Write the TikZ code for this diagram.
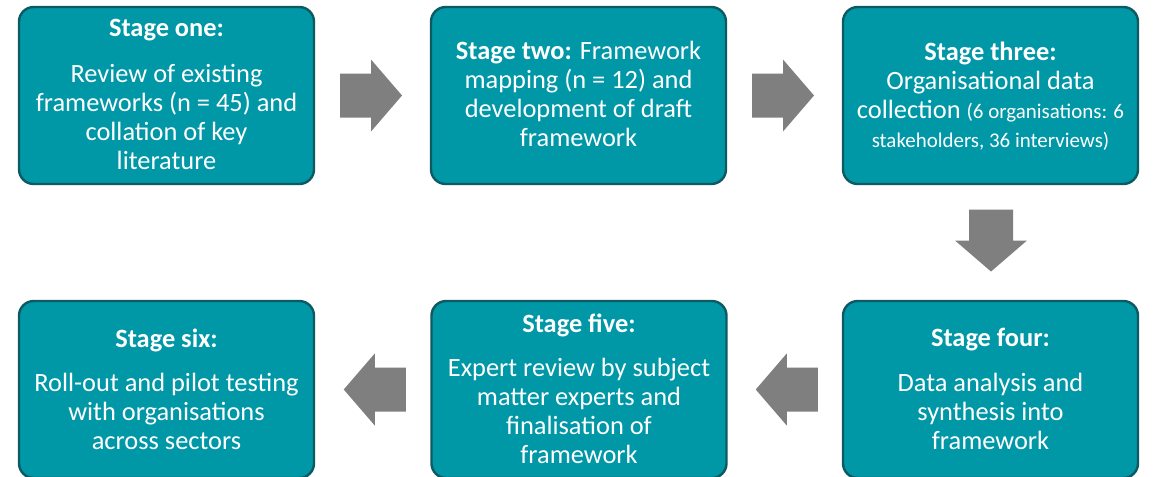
\documentclass[tikz,border=0pt]{standalone}
\usepackage{fontspec}
\setmainfont{Carlito}
\usetikzlibrary{calc}
\definecolor{boxfill}{HTML}{0097A7}
\definecolor{boxline}{HTML}{0E5A62}
\definecolor{arrowgray}{HTML}{7F7F7F}
\begin{document}
\begin{tikzpicture}[x=0.75pt,y=-0.75pt,
  stagebox/.style={draw=boxline, line width=1.8pt, fill=boxfill, rounded corners=11pt,
    minimum width=221.25pt, minimum height=132.75pt, inner sep=0pt},
  stagetext/.style={text=white, font=\fontsize{19.8}{21.75}\selectfont, align=center, inner sep=0pt},
  stagetitle/.style={stagetext, font=\fontsize{19.8}{21.75}\selectfont\bfseries},
  blockarrow/.pic={\fill[arrowgray] (-31,-22) -- (0,-22) -- (0,-36) -- (31,0) -- (0,36) -- (0,22) -- (-31,22) -- cycle;}
]
\useasboundingbox (0,0) rectangle (1153,476);
\clip (0,0) rectangle (1153,476);
\fill[white] (0,0) rectangle (1153,476);

% boxes
\node[stagebox] (s1) at (166.5,95.5) {};
\node[stagebox] (s2) at (578.5,95.5) {};
\node[stagebox] (s3) at (990.5,95.5) {};
\node[stagebox] (s4) at (990.5,389.5) {};
\node[stagebox] (s5) at (579,389.5) {};
\node[stagebox] (s6) at (166.5,389.5) {};

% texts
\node[stagetitle] (t1) at (166.5,30) {Stage one:};
\node[stagetext] (b1) at (166.5,116.5) {Review of existing\\frameworks (n = 45) and\\collation of key\\literature};

\node[stagetext] (b2) at (578.5,94) {\textbf{Stage two:} Framework\\mapping (n = 12) and\\development of draft\\framework};

\node[stagetext] (b3) at (990.5,96.5) {\textbf{Stage three:}\\Organisational data\\collection {\fontsize{15.7}{21.75}\selectfont (6 organisations: 6}\\{\fontsize{15.7}{21.75}\selectfont stakeholders, 36 interviews)}};

\node[stagetitle] (t4) at (990.5,340) {Stage four:};
\node[stagetext] (b4) at (990.5,411) {Data analysis and\\synthesis into\\framework};

\node[stagetitle] (t5) at (579,325) {Stage five:};
\node[stagetext] (b5) at (579,411) {Expert review by subject\\matter experts and\\finalisation of\\framework};

\node[stagetitle] (t6) at (166.5,340) {Stage six:};
\node[stagetext] (b6) at (166.5,411) {Roll-out and pilot testing\\with organisations\\across sectors};

% block arrows
\pic at ($(s1.east)!0.5!(s2.west)+(-1.5,0)$) {blockarrow};
\pic at ($(s2.east)!0.5!(s3.west)+(-1.5,0)$) {blockarrow};
\pic[rotate=-90] at ($(s3.south)!0.5!(s4.north)+(0.5,-2)$) {blockarrow};
\pic[rotate=180] at ($(s5.east)!0.5!(s4.west)+(2,0)$) {blockarrow};
\pic[rotate=180] at ($(s6.east)!0.5!(s5.west)+(2,0)$) {blockarrow};
\end{tikzpicture}
\end{document}
